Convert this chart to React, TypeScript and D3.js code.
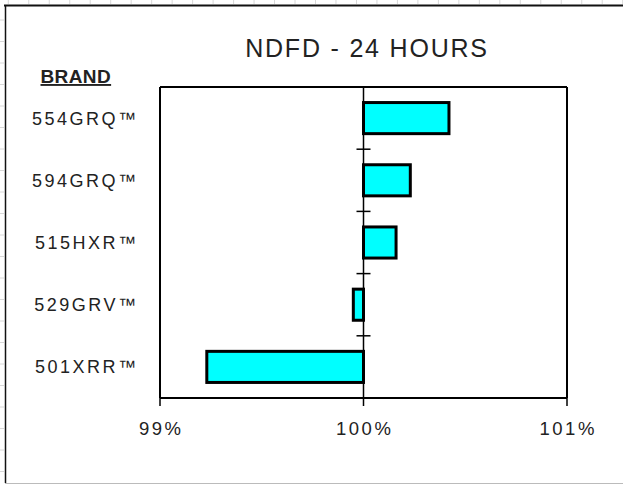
import React from 'react';
import * as d3 from 'd3';

const categories = ['554GRQ™', '594GRQ™', '515HXR™', '529GRV™', '501XRR™'];
const values = [100.42, 100.23, 100.16, 99.95, 99.23];
const xTicks = [99, 100, 101];
const title = 'NDFD - 24 HOURS';
const axisTitle = 'BRAND';

const W = 623;
const H = 484;
const plot = { left: 160, right: 567, top: 87, bottom: 398 };
const FONT = '"Liberation Sans", Arial, sans-serif';

export default function App() {
  const x = d3.scaleLinear().domain([99, 101]).range([plot.left, plot.right]);
  const y = d3
    .scaleBand<string>()
    .domain(categories)
    .range([plot.top, plot.bottom])
    .paddingInner(0.5)
    .paddingOuter(0.25);
  const step = y.step();
  const x0 = x(100);

  const gridV = d3.range(0, 31).map((i) => 8.3 + i * 20.48);
  const gridH = d3.range(0, 23).map((i) => 20 + i * 21.5);
  const boundaries = d3.range(1, categories.length).map((i) => plot.top + i * step);

  return (
    <svg
      width={W}
      height={H}
      style={{ position: 'absolute', left: 0, top: 0, background: '#fff' }}
      fontFamily={FONT}
    >
      <rect x={0} y={0} width={W} height={H} fill="#fff" />
      {/* faint spreadsheet grid outside the chart */}
      {gridV.map((gx, i) => (
        <line key={'gv' + i} x1={gx} x2={gx} y1={0} y2={4} stroke="#d8d8d8" strokeWidth={1} />
      ))}
      {gridH.map((gy, i) => (
        <line key={'gh' + i} x1={0} x2={4} y1={gy} y2={gy} stroke="#d8d8d8" strokeWidth={1} />
      ))}
      {/* chart frame */}
      <line x1={4} x2={W} y1={5.5} y2={5.5} stroke="#111" strokeWidth={2} />
      <line x1={5.5} x2={5.5} y1={5} y2={483} stroke="#111" strokeWidth={1.5} />
      <line x1={5} x2={W} y1={483.5} y2={483.5} stroke="#bbb" strokeWidth={1} />

      {/* title */}
      <text x={367} y={57} textAnchor="middle" fontSize={25} fill="#222" letterSpacing={1.8}>
        {title}
      </text>

      {/* BRAND */}
      <text
        x={40.5}
        y={83}
        fontSize={19}
        fontWeight="bold"
        fill="#222"
        textDecoration="underline"
        letterSpacing={0.4}
      >
        {axisTitle}
      </text>

      {/* plot box */}
      <line x1={plot.left} x2={plot.right} y1={plot.top} y2={plot.top} stroke="#000" strokeWidth={2} />
      <line x1={plot.left} x2={plot.left} y1={plot.top} y2={plot.bottom} stroke="#000" strokeWidth={2} />
      <line x1={plot.right} x2={plot.right} y1={plot.top} y2={plot.bottom} stroke="#000" strokeWidth={2} />
      <line x1={plot.left} x2={plot.right} y1={plot.bottom} y2={plot.bottom} stroke="#000" strokeWidth={2} />

      {/* x ticks */}
      {xTicks.map((t) => (
        <g key={t}>
          <line x1={x(t)} x2={x(t)} y1={plot.bottom} y2={plot.bottom + 8} stroke="#000" strokeWidth={1.5} />
          <text x={x(t) + 1.2} y={435} textAnchor="middle" fontSize={18.5} fill="#222" letterSpacing={2.5}>
            {t + '%'}
          </text>
        </g>
      ))}

      {/* category axis at 100% */}
      <line x1={x0} x2={x0} y1={plot.top} y2={plot.bottom} stroke="#000" strokeWidth={1.5} />
      {boundaries.map((b, i) => (
        <line key={'cb' + i} x1={x0 - 7} x2={x0 + 7} y1={b} y2={b} stroke="#000" strokeWidth={1.5} />
      ))}

      {/* bars */}
      {categories.map((c, i) => {
        const v = values[i];
        const xa = Math.min(x(v), x0);
        const xb = Math.max(x(v), x0);
        return (
          <rect
            key={c}
            x={xa}
            y={y(c)!}
            width={xb - xa}
            height={y.bandwidth()}
            fill="#00FFFF"
            stroke="#000"
            strokeWidth={3}
          />
        );
      })}

      {/* category labels */}
      {categories.map((c) => (
        <text
          key={'l' + c}
          x={138.5}
          y={y(c)! + y.bandwidth() / 2 + 6.5}
          textAnchor="end"
          fontSize={18}
          fill="#222"
          letterSpacing={2.5}
        >
          {c}
        </text>
      ))}
    </svg>
  );
}
